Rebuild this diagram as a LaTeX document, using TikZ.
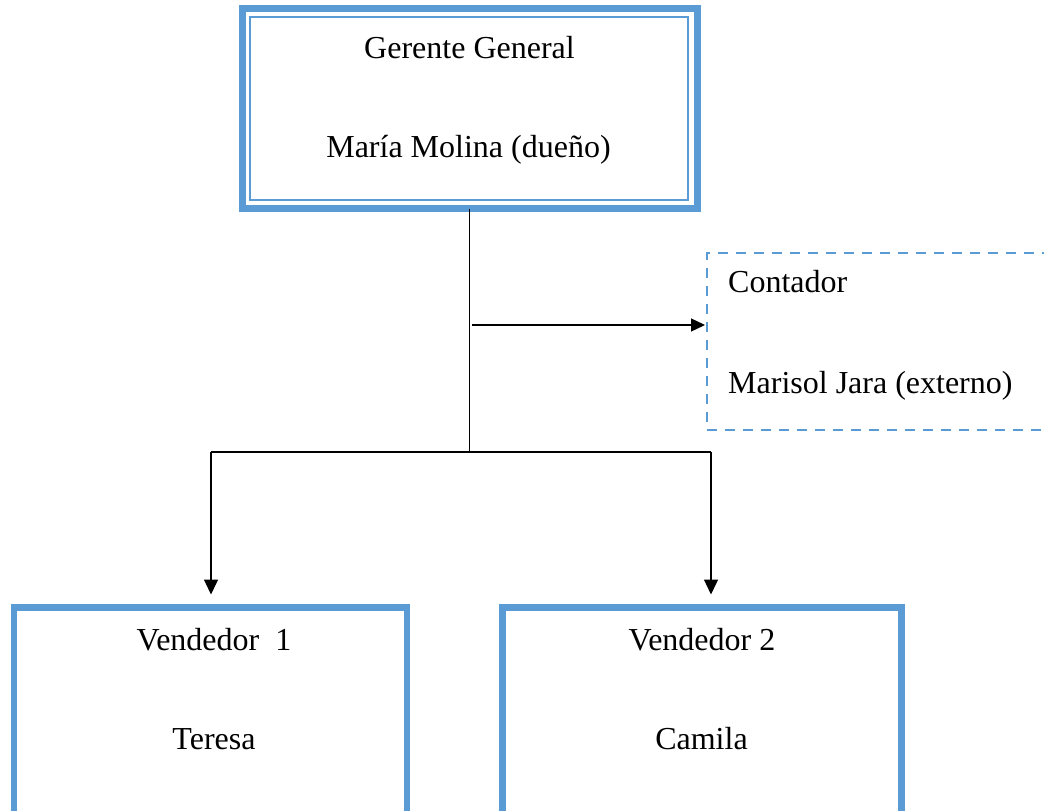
\documentclass[tikz,border=0pt]{standalone}
\usepackage{fontspec}
\setmainfont{Liberation Serif}
\usetikzlibrary{arrows.meta,calc}
\definecolor{boxblue}{HTML}{5B9BD5}
\begin{document}
\begin{tikzpicture}[x=1pt,y=-1pt,
  every node/.style={font=\fontsize{32}{38}\selectfont},
  framebox/.style={draw=boxblue, line width=6.5pt, rectangle, inner sep=0pt, outer sep=0pt},
  extbox/.style={draw=boxblue, line width=2pt, dash pattern=on 10pt off 8pt, rectangle, inner sep=0pt, outer sep=0pt},
  txt/.style={anchor=base, inner sep=0pt},
  link/.style={draw=black, line width=1.3pt},
  arrowlink/.style={link, -{Triangle[length=15pt,width=14pt]}},
]
\useasboundingbox (0,0) rectangle (1044,811);
\clip (0,0) rectangle (1044,811);

% General manager: thick frame with a thin inner rule
\node[framebox, line width=7pt, minimum width=455pt, minimum height=200pt] (gm) at (469.5,108.5) {};
\draw[boxblue, line width=1.5pt] ($(gm.north west)+(8,8.5)$) rectangle ($(gm.south east)+(-9,-8.5)$);
\node[txt] (gmrole) at (469.5,58) {Gerente General};
\node[txt] (gmname) at (468.5,157) {María Molina (dueño)};

% External accountant (dashed, runs past the right edge)
\node[extbox, minimum width=363pt, minimum height=177pt] (acct) at (888.5,341.5) {};
\node[txt, anchor=base west] (acctrole) at (728,292) {Contador};
\node[txt, anchor=base west] (acctname) at (728,393) {Marisol Jara (externo)};

% Sales staff (boxes run past the bottom edge)
\node[framebox, minimum width=393pt, minimum height=240pt] (sales1) at (210.5,727.5) {};
\node[txt] (s1role) at (214,650) {Vendedor\ \ 1};
\node[txt] (s1name) at (214,749) {Teresa};

\node[framebox, minimum width=399pt, minimum height=240pt] (sales2) at (702,727.5) {};
\node[txt] (s2role) at (702,650) {Vendedor 2};
\node[txt] (s2name) at (701.5,749) {Camila};

% Reporting lines
\coordinate (hub) at (469.5,452);
\coordinate (drop1) at (211,452);
\coordinate (drop2) at (711,452);
\coordinate (tap) at (472,325);

\draw[link, line width=1pt] (gm.south) -- (hub);
\draw[link] (drop1) -- (drop2);
\draw[arrowlink] (drop1) -- ($(drop1 |- sales1.north)+(0,-13)$);
\draw[arrowlink] (drop2) -- ($(drop2 |- sales2.north)+(0,-13)$);
\draw[link, -{Triangle[length=14pt,width=13pt]}, shorten >=2pt] (tap) -- (tap -| acct.west);
\end{tikzpicture}
\end{document}
